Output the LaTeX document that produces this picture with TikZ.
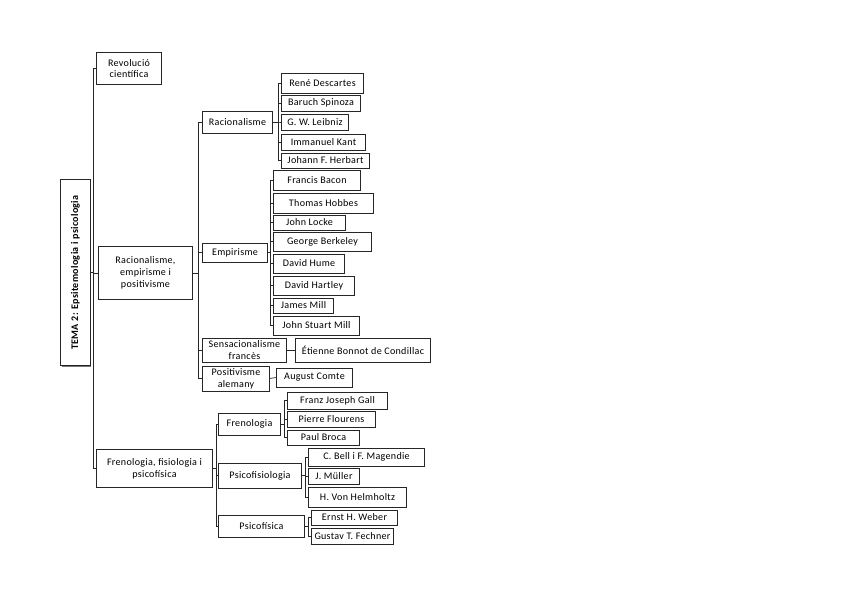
\documentclass[tikz,border=0pt]{standalone}
\usepackage{fontspec}
\setmainfont{Carlito}[LetterSpace=3]
\usepackage{tikz}
\usetikzlibrary{calc, shadows}
\definecolor{Edge}{HTML}{262626}

\begin{document}
\begin{tikzpicture}[
  x=0.993pt, y=-0.993pt,
  box/.style={draw=Edge, fill=white, line width=0.8pt, align=center,
              font=\fontsize{10}{11.7}\selectfont, inner sep=1pt,
              drop shadow={shadow xshift=0.9pt, shadow yshift=-0.9pt, fill=black!55, opacity=1}},
  link/.style={draw=Edge, line width=0.7pt},
]
\useasboundingbox (0,0) rectangle (848,599);
\node[box, rotate=90, minimum width=185, minimum height=29, font=\fontsize{10}{11.7}\selectfont\bfseries] (tema) at (75.5,272.5) {TEMA 2: Epsitemologia i psicologia};

\node[box, minimum width=64, minimum height=31] (revol) at (129,68.5) {Revolució\\científica};
\node[box, minimum width=93, minimum height=52] (racemp) at (145.5,273) {Racionalisme,\\empirisme i\\positivisme};
\node[box, minimum width=115, minimum height=37] (frefis) at (154.5,468.5) {Frenologia, fisiologia i\\psicofísica};

\node[box, minimum width=69, minimum height=22] (rac) at (237.5,122) {Racionalisme};
\node[box, minimum width=64, minimum height=19] (emp) at (235,252.5) {Empirisme};
\node[box, minimum width=83, minimum height=24] (sens) at (244.5,350) {Sensacionalisme\\francès};
\node[box, minimum width=66, minimum height=25] (posit) at (236,378.5) {Positivisme\\alemany};

\node[box, minimum width=81, minimum height=20] (desc) at (322.5,83) {René Descartes};
\node[box, minimum width=78, minimum height=16] (spin) at (321,103) {Baruch Spinoza};
\node[box, minimum width=66, minimum height=16] (leib) at (315,122) {G. W. Leibniz};
\node[box, minimum width=83, minimum height=16] (kant) at (323.5,142) {Immanuel Kant};
\node[box, minimum width=87, minimum height=15] (herb) at (325.5,160.5) {Johann F. Herbart};

\node[box, minimum width=86, minimum height=20] (bacon) at (317,180) {Francis Bacon};
\node[box, minimum width=99, minimum height=20] (hobbes) at (323.5,203) {Thomas Hobbes};
\node[box, minimum width=71, minimum height=15] (locke) at (309.5,222.5) {John Locke};
\node[box, minimum width=97, minimum height=19] (berk) at (322.5,241.5) {George Berkeley};
\node[box, minimum width=70, minimum height=19] (hume) at (309,263.5) {David Hume};
\node[box, minimum width=80, minimum height=19] (hartley) at (314,285.5) {David Hartley};
\node[box, minimum width=59, minimum height=15] (jmill) at (303.5,305.5) {James Mill};
\node[box, minimum width=85, minimum height=19] (jsmill) at (316.5,325.5) {John Stuart Mill};

\node[box, minimum width=134, minimum height=24] (cond) at (363,350) {Étienne Bonnot de Condillac};
\node[box, minimum width=75, minimum height=19] (comte) at (314.5,377.5) {August Comte};

\node[box, minimum width=61, minimum height=22] (fren) at (249.5,424) {Frenologia};
\node[box, minimum width=82, minimum height=25] (psfis) at (260,475.5) {Psicofisiologia};
\node[box, minimum width=85, minimum height=22] (psic) at (261.5,526) {Psicofísica};

\node[box, minimum width=99, minimum height=17] (gall) at (337.5,400.5) {Franz Joseph Gall};
\node[box, minimum width=87, minimum height=16] (flour) at (331.5,419) {Pierre Flourens};
\node[box, minimum width=71, minimum height=15] (broca) at (323.5,437.5) {Paul Broca};

\node[box, minimum width=115, minimum height=18] (bell) at (366.5,457) {C. Bell i F. Magendie};
\node[box, minimum width=50, minimum height=16] (muller) at (334,476) {J. Müller};
\node[box, minimum width=97, minimum height=20] (helm) at (357.5,497) {H. Von Helmholtz};

\node[box, minimum width=85, minimum height=15] (weber) at (354.5,517.5) {Ernst H. Weber};
\node[box, minimum width=81, minimum height=16] (fech) at (352.5,536) {Gustav T. Fechner};

\foreach \c in {revol,racemp,frefis} \draw[link] (tema.south) -- ++(3,0) |- (\c.west);
\foreach \c in {rac,emp,sens,posit} \draw[link] (racemp.east) -- ++(6,0) |- (\c.west);
\foreach \c in {fren,psfis,psic} \draw[link] (frefis.east) -- ++(4,0) |- (\c.west);
\foreach \c in {desc,spin,leib,kant,herb} \draw[link] (rac.east) -- ++(6,0) |- (\c.west);
\foreach \c in {bacon,hobbes,locke,berk,hume,hartley,jmill,jsmill} \draw[link] (emp.east) -- ++(3,0) |- (\c.west);
\foreach \c in {gall,flour,broca} \draw[link] (fren.east) -- ++(4,0) |- (\c.west);
\foreach \c in {bell,muller,helm} \draw[link] (psfis.east) -- ++(4,0) |- (\c.west);
\foreach \c in {weber,fech} \draw[link] (psic.east) -- ++(4,0) |- (\c.west);
\draw[link] (sens.east) -- (cond.west);
\draw[link] (posit.east) -- (comte.west);
\end{tikzpicture}
\end{document}
